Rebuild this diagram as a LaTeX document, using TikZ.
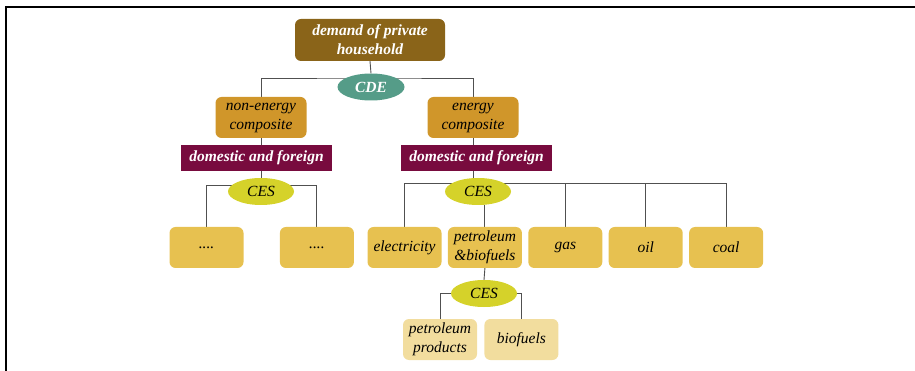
\documentclass[tikz,border=0pt]{standalone}
\usepackage{fontspec}
\setmainfont{Liberation Serif}
\usepackage{xcolor}
\definecolor{household}{HTML}{8A6419}
\definecolor{cdeteal}{HTML}{559C88}
\definecolor{composite}{HTML}{D0962A}
\definecolor{trade}{HTML}{780B3E}
\definecolor{cesgreen}{HTML}{D5D22A}
\definecolor{goods}{HTML}{E7C150}
\definecolor{subgoods}{HTML}{F2DD9E}
\definecolor{linkgray}{HTML}{505050}
\usepackage{tikz}
\usetikzlibrary{positioning, backgrounds, shapes.geometric}

\begin{document}
\begin{tikzpicture}[
            x=1pt, y=-1pt,
            node distance=6pt,
            align=center,
            font=\rmfamily\fontsize{15.5}{19}\selectfont\itshape,
            topbox/.style={rectangle, fill=household, text=white, font=\rmfamily\fontsize{15.5}{19}\selectfont\itshape\bfseries, rounded corners=6pt, minimum width=150pt, minimum height=42pt, inner sep=0pt},
            compbox/.style={rectangle, fill=composite, rounded corners=6pt, minimum width=91pt, minimum height=41pt, inner sep=0pt},
            tradebox/.style={rectangle, fill=trade, text=white, font=\rmfamily\fontsize{15.5}{19}\selectfont\itshape\bfseries, minimum width=151pt, minimum height=26pt, inner sep=0pt},
            cdenode/.style={ellipse, fill=cdeteal, text=white, font=\rmfamily\fontsize{15.5}{19}\selectfont\itshape\bfseries, minimum width=67pt, minimum height=27pt, inner sep=0pt},
            cesnode/.style={ellipse, fill=cesgreen, minimum width=66pt, minimum height=27pt, inner sep=0pt},
            goodbox/.style={rectangle, fill=goods, rounded corners=6pt, minimum width=74pt, minimum height=41pt, inner sep=0pt},
            subbox/.style={rectangle, fill=subgoods, rounded corners=6pt, minimum width=74pt, minimum height=41pt, inner sep=0pt},
            link/.style={draw=linkgray, line width=0.9pt}
        ]
            \useasboundingbox (0,0) rectangle (915,371);
            % Frame
            \draw[line width=1.5pt] (6,371) -- (6,7) -- (915,7);

            % Nodes
            \node[topbox] (demand) at (370,40) {demand of private\\household};
            \node[cdenode] (cde) at (371,87) {CDE};
            \node[compbox] (noncomp) at (261,117.5) {non-energy\\composite};
            \node[compbox] (encomp) at (473,117.5) {energy\\composite};
            \node[tradebox] (domL) at (256.5,158) {domestic and foreign};
            \node[tradebox] (domR) at (476.5,158) {domestic and foreign};
            \node[cesnode] (cesL) at (261,191.5) {CES};
            \node[cesnode] (cesR) at (478,191.5) {CES};

            \node[goodbox] (dotsA) at (206.5,247.5) {....};
            \node[goodbox, right=36pt of dotsA] (dotsB) {....};

            \node[goodbox] (elec) at (404.5,247.5) {electricity};
            \node[goodbox, right=of elec] (petro) {petroleum\\\&biofuels};
            \node[goodbox, right=of petro] (gas) {gas};
            \node[goodbox, right=of gas] (oil) {oil};
            \node[goodbox, right=of oil] (coal) {coal};

            \node[cesnode] (cesP) at (484,293.5) {CES};
            \node[subbox] (prod) at (440,339.5) {petroleum\\products};
            \node[subbox, right=7pt of prod] (bio) {biofuels};

            % Bar levels
            \coordinate (barTop) at ([yshift=9pt]cde.center);
            \coordinate (barL) at ([yshift=6pt]cesL.center);
            \coordinate (barR) at ([yshift=8pt]cesR.center);

            % Links
            \begin{scope}[on background layer]
            \draw[link] (demand.south) -- (cde.north);
            \draw[link] (noncomp.north) |- (barTop) -| (encomp.north);
            \draw[link] (noncomp.south) -- (noncomp.south |- domL.north);
            \draw[link] (cesL.north |- domL.south) -- (cesL.north);
            \draw[link] (dotsA.north) |- (barL) -| (dotsB.north);

            \draw[link] (encomp.south) -- (encomp.south |- domR.north);
            \draw[link] (encomp.south |- domR.south) -- (encomp.south |- cesR.north);
            \draw[link] (elec.north) |- (barR) -| (coal.north);
            \draw[link] (gas.north) -- (gas.north |- barR);
            \draw[link] (oil.north) -- (oil.north |- barR);
            \draw[link] (petro.north) -- (petro.north |- cesR.south);

            \draw[link] (petro.south) -- (cesP.north);
            \draw[link] (prod.north) |- (cesP.center) -| (bio.north);
            \end{scope}
        \end{tikzpicture}
\end{document}
